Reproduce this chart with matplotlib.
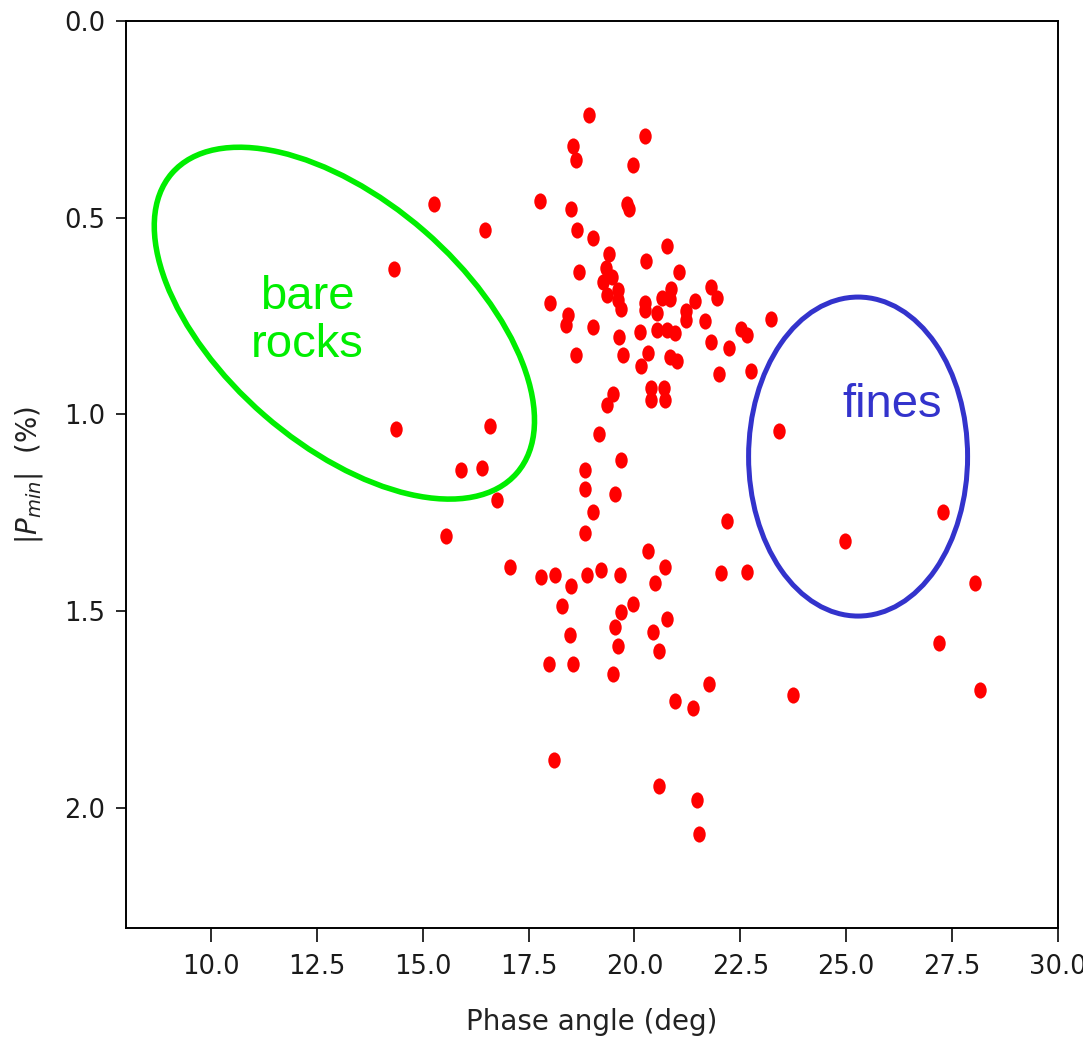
import matplotlib
matplotlib.use("Agg")
import matplotlib.pyplot as plt
from matplotlib.patches import Ellipse
from matplotlib.path import Path
from matplotlib.transforms import Affine2D, ScaledTranslation

# phase angle (deg) and |Pmin| (%) of the measured spots
phase_angle = [
    18.93, 20.25, 18.55, 18.61, 19.97, 15.26, 17.76, 18.51, 19.83, 19.87,
    16.48, 18.65, 19.03, 19.41, 20.77, 20.28, 14.31, 18.69, 19.32, 19.46,
    19.26, 19.36, 19.60, 19.61, 19.69, 20.25, 20.25, 18.00, 18.42, 18.38,
    19.03, 19.64, 20.12, 21.06, 20.64, 20.87, 20.84, 20.54, 20.53, 20.77,
    20.96, 21.21, 21.21, 21.43, 21.81, 21.96, 21.67, 18.61, 19.74, 20.31,
    20.16, 20.83, 21.00, 21.81, 22.23, 22.52, 22.66, 23.22, 22.00, 22.75,
    20.40, 20.40, 20.69, 20.73, 19.50, 19.36, 19.17, 23.42, 14.36, 16.58,
    15.91, 16.39, 16.76, 15.55, 18.84, 18.84, 19.69, 19.55, 19.03, 18.84,
    20.31, 17.05, 17.80, 18.13, 18.51, 18.88, 19.21, 19.65, 20.73, 20.49,
    22.04, 22.66, 22.18, 18.29, 19.97, 19.69, 19.55, 19.60, 20.77, 20.44,
    20.58, 18.47, 17.99, 18.56, 19.50, 21.76, 20.96, 21.39, 18.09, 20.58,
    21.47, 21.52, 27.28, 24.96, 28.03, 27.18, 23.74, 28.17,
]
p_min = [
    0.239, 0.292, 0.318, 0.353, 0.366, 0.465, 0.458, 0.478, 0.465, 0.478,
    0.531, 0.531, 0.551, 0.592, 0.572, 0.611, 0.631, 0.638, 0.628, 0.650,
    0.664, 0.696, 0.683, 0.709, 0.732, 0.717, 0.734, 0.717, 0.748, 0.772,
    0.777, 0.803, 0.790, 0.638, 0.703, 0.682, 0.706, 0.743, 0.785, 0.785,
    0.792, 0.737, 0.760, 0.711, 0.675, 0.705, 0.763, 0.850, 0.850, 0.843,
    0.877, 0.855, 0.864, 0.817, 0.830, 0.783, 0.798, 0.757, 0.897, 0.889,
    0.932, 0.964, 0.932, 0.964, 0.949, 0.977, 1.050, 1.042, 1.036, 1.030,
    1.142, 1.135, 1.217, 1.308, 1.142, 1.189, 1.115, 1.202, 1.248, 1.301,
    1.348, 1.388, 1.414, 1.408, 1.435, 1.408, 1.395, 1.408, 1.388, 1.428,
    1.402, 1.401, 1.272, 1.488, 1.481, 1.501, 1.540, 1.588, 1.521, 1.554,
    1.601, 1.561, 1.634, 1.634, 1.660, 1.686, 1.727, 1.747, 1.879, 1.945,
    1.979, 2.066, 1.248, 1.321, 1.428, 1.580, 1.713, 1.700,
]

x_ticks = [10.0, 12.5, 15.0, 17.5, 20.0, 22.5, 25.0, 27.5, 30.0]
y_ticks = [0.0, 0.5, 1.0, 1.5, 2.0]

# slightly tall dots
dot = Path.unit_circle().transformed(Affine2D().scale(1.0, 1.3))

fig = plt.figure(figsize=(10.83, 10.38), dpi=100)
ax = fig.add_axes([0.1166, 0.106, 0.8603, 0.8738])

ax.scatter(phase_angle, p_min, s=135, marker=dot, color='red', linewidths=0)

ax.set_xlim(8, 30)
ax.set_ylim(2.305, 0)
ax.set_xticks(x_ticks)
ax.set_yticks(y_ticks)
ax.set_xticklabels([f"{t:.1f}" for t in x_ticks])
ax.set_yticklabels([f"{t:.1f}" for t in y_ticks])

ax.tick_params(axis='x', length=10, width=1.3, labelsize=18.5, pad=9, colors='#1a1a1a')
ax.tick_params(axis='y', length=7, width=1.3, labelsize=18.5, pad=8, colors='#1a1a1a')
for sp in ax.spines.values():
    sp.set_linewidth(1.4)

ax.set_xlabel("Phase angle (deg)", fontsize=20, color='#222222', labelpad=20)
ax.set_ylabel(r"$|P_{min}|$  (%)", fontsize=20, color='#222222', labelpad=14)

# group outlines, sized in inches around a data-space centre
green = '#00ee00'
blue = '#3333cc'
rock_trans = fig.dpi_scale_trans + ScaledTranslation(13.15, 0.768, ax.transData)
ax.add_patch(Ellipse((0, 0), 4.57, 2.44, angle=-41, fill=False,
                     edgecolor=green, linewidth=4, transform=rock_trans))
fines_trans = fig.dpi_scale_trans + ScaledTranslation(25.28, 1.107, ax.transData)
ax.add_patch(Ellipse((0, 0), 2.19, 3.19, fill=False,
                     edgecolor=blue, linewidth=3.6, transform=fines_trans))

ax.text(12.28, 0.762, "bare\nrocks", ha='center', va='center', color=green,
        fontsize=34, family='Liberation Sans', linespacing=1.1)
ax.text(26.09, 0.977, "fines", ha='center', va='center', color=blue,
        fontsize=34, family='Liberation Sans')

plt.savefig("out.png", dpi=100)
